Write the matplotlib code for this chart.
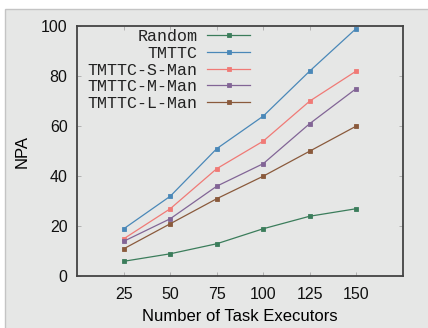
import matplotlib
matplotlib.use("Agg")
import matplotlib.pyplot as plt
from matplotlib.patches import Rectangle

executors = [25, 50, 75, 100, 125, 150]
random_npa = [6, 9, 13, 19, 24, 27]
tmttc = [19, 32, 51, 64, 82, 99]
tmttc_s = [15, 27, 43, 54, 70, 82]
tmttc_m = [14, 23, 36, 45, 61, 75]
tmttc_l = [11, 21, 31, 40, 50, 60]
labels = ["Random", "TMTTC", "TMTTC-S-Man", "TMTTC-M-Man", "TMTTC-L-Man"]
series = [random_npa, tmttc, tmttc_s, tmttc_m, tmttc_l]
colors = ["#3b7d5b", "#4a88b8", "#f07a76", "#826596", "#8a5a3c"]
yticks = [0, 20, 40, 60, 80, 100]

plt.rcParams['font.family'] = ['Liberation Sans', 'DejaVu Sans']

fig = plt.figure(figsize=(4.28, 3.28), dpi=100, facecolor="white")
bg = Rectangle((5 / 428, -0.05), 1.1, (328 - 9) / 328 + 0.05, transform=fig.transFigure,
               facecolor="#e6e7e6", edgecolor="#c4c4c4", linewidth=1.0, zorder=-10)
fig.patches.append(bg)

ax = fig.add_axes([77.3 / 428, 1 - 276.3 / 328, (402.7 - 77.3) / 428, (276.3 - 26) / 328])
ax.set_facecolor("#e6e7e6")

for lab, vals, c in zip(labels, series, colors):
    ax.plot(executors, vals, color=c, linewidth=0.9, marker="s", markersize=3.0,
            markerfacecolor=c, markeredgecolor=c, markeredgewidth=0.6, label=lab)

ax.set_xlim(0, 175)
ax.set_ylim(0, 100)
ax.set_xticks(executors)
ax.set_yticks(yticks)
ax.tick_params(direction="in", length=3, width=0.6, color="#a8a8a8", top=True, right=True,
               labelsize=11.5, labelcolor="#111111")
ax.tick_params(axis="y", pad=7)
ax.tick_params(axis="x", pad=8)
for s in ax.spines.values():
    s.set_color("#444444")
    s.set_linewidth(1.3)

ax.set_xlabel("Number of Task Executors", fontsize=12, labelpad=5)
ax.set_ylabel("NPA", fontsize=12, labelpad=8)

leg = ax.legend(loc="upper left", bbox_to_anchor=(0.02, 1.0), frameon=False, markerfirst=False,
                prop={"family": "Liberation Mono", "size": 12}, handlelength=2.6,
                handletextpad=0.6, labelspacing=0.1, borderaxespad=0.0, borderpad=0.2)
for t in leg.get_texts():
    t.set_color("#222222")

fig.savefig("out.png", dpi=100, facecolor="white")
